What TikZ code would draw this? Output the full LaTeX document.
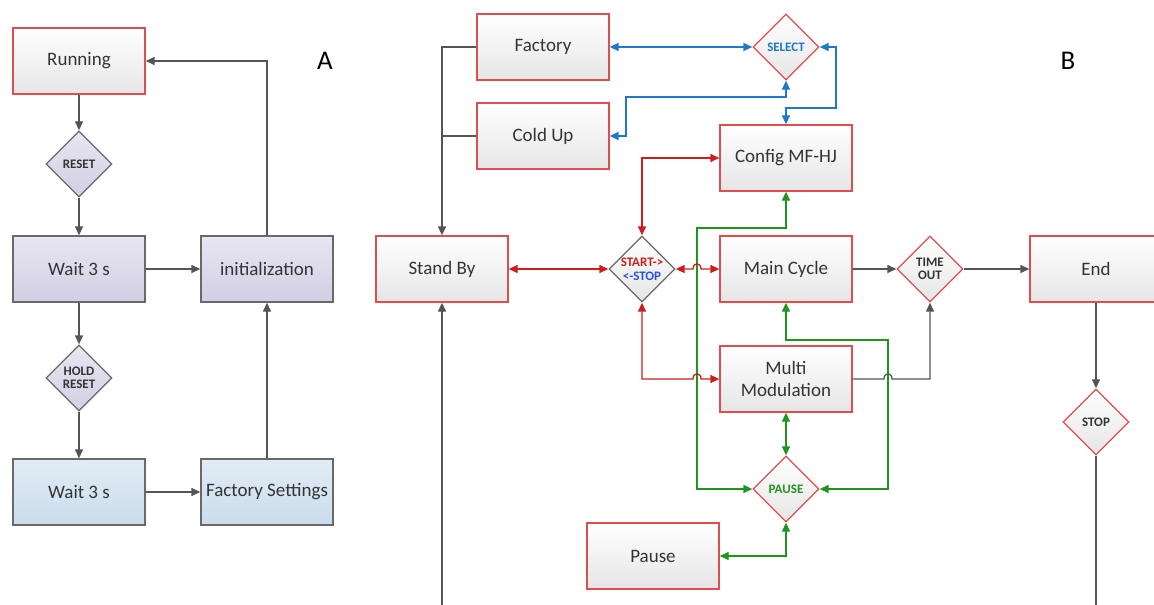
\documentclass[tikz,border=0pt]{standalone}
\usepackage{fontspec}
\setmainfont{Carlito}
\usetikzlibrary{shapes.geometric, arrows.meta, calc}
\definecolor{txt}{RGB}{52, 52, 52}
\definecolor{boxred}{RGB}{222, 78, 78}
\definecolor{boxgray}{RGB}{105, 105, 105}
\definecolor{lilac1}{RGB}{232, 230, 242}
\definecolor{lilac2}{RGB}{210, 206, 228}
\definecolor{sky1}{RGB}{226, 236, 246}
\definecolor{sky2}{RGB}{202, 220, 236}
\definecolor{gline}{RGB}{85, 85, 85}
\definecolor{bline}{RGB}{30, 120, 205}
\definecolor{rline}{RGB}{205, 30, 30}
\definecolor{vline}{RGB}{30, 150, 30}
\definecolor{stopblue}{RGB}{40, 80, 225}

\begin{document}
\begin{tikzpicture}[x=1pt, y=-1pt, line width=1.3pt,
  >={Triangle[length=9pt, width=8pt]},
  box/.style={rectangle, minimum width=132pt, minimum height=66pt, inner sep=2pt,
    text=txt, font=\fontsize{19}{22}\selectfont, align=center},
  redbox/.style={box, draw=boxred, top color=white, bottom color=black!10},
  lilacbox/.style={box, draw=boxgray, top color=lilac1, bottom color=lilac2},
  skybox/.style={box, draw=boxgray, top color=sky1, bottom color=sky2},
  dia/.style={diamond, aspect=1, minimum width=66pt, minimum height=66pt, inner sep=0pt,
    text=txt, font=\fontsize{13}{14}\selectfont\bfseries, align=center},
  reddia/.style={dia, draw=boxred, top color=white, bottom color=black!10},
  lilacdia/.style={dia, draw=boxgray, top color=lilac1, bottom color=lilac2},
  graydia/.style={dia, draw=boxgray, top color=white, bottom color=black!10},
  gray/.style={draw=gline},
  blue/.style={draw=bline},
  red/.style={draw=rline},
  green/.style={draw=vline}]
  \useasboundingbox (0, 0) rectangle (1154, 605);

  % A
  \node[redbox] (run) at (79, 61) {Running};
  \node[lilacdia] (reset) at (79, 164) {RESET};
  \node[lilacbox] (waitA) at (79, 269) {Wait 3 s};
  \node[lilacbox] (init) at (267, 269) {initialization};
  \node[lilacdia] (hold) at (79, 378) {HOLD\\[-1pt]RESET};
  \node[skybox] (waitB) at (79, 492) {Wait 3 s};
  \node[skybox] (fset) at (267, 492) {Factory Settings};
  \node[font=\fontsize{27}{30}\selectfont] (labA) at (325, 61) {A};

  \draw[gray, ->] (run) -- (reset);
  \draw[gray, ->] (reset) -- (waitA);
  \draw[gray, ->] (waitA) -- (init);
  \draw[gray, ->] (init.north) |- (run.east);
  \draw[gray, ->] (waitA) -- (hold);
  \draw[gray, ->] (hold) -- (waitB);
  \draw[gray, ->] (waitB) -- (fset);
  \draw[gray, ->] (fset) -- (init);

  % B
  \node[redbox] (factory) at (543, 47) {Factory};
  \node[redbox] (coldup) at (543, 136) {Cold Up};
  \node[reddia, text=bline] (select) at (786, 47) {SELECT};
  \node[redbox] (config) at (786, 158) {Config MF-HJ};
  \node[redbox] (standby) at (442, 269) {Stand By};
  \node[graydia] (ss) at (642, 269) {\textcolor{rline}{START->}\\\textcolor{stopblue}{<-STOP}};
  \node[redbox] (main) at (786, 269) {Main Cycle};
  \node[reddia] (timeout) at (930, 269) {TIME\\[-1pt]OUT};
  \node[redbox] (endbox) at (1096, 269) {End};
  \node[reddia] (stop) at (1096, 422) {STOP};
  \node[redbox] (multi) at (786, 379) {Multi\\Modulation};
  \node[reddia, text=vline] (pausedia) at (786, 489) {PAUSE};
  \node[redbox] (pausebox) at (653, 556) {Pause};
  \node[font=\fontsize{27}{30}\selectfont] (labB) at (1068, 61) {B};

  \coordinate (bl) at (626, 97);
  \coordinate (br) at (836, 108);
  \coordinate (gl) at (697, 228);
  \coordinate (gr) at (888, 340);
  \coordinate (bot) at (0, 606);

  \draw[gray, ->] (factory.west) -| (standby.north);
  \draw[gray] (coldup.west) -- (coldup.west -| standby.north);

  \draw[blue, <->] (factory.east) -- (select.west);
  \draw[blue, <->] (coldup.east) -| (bl) -| (select.south);
  \draw[blue, <->] (select.east) -| (br) -| (config.north);

  \draw[green, <->] (pausedia.west) -| (gl) -| (config.south);
  \draw[green, <->] (pausedia.east) -| (gr) -| (main.south);
  \draw[green, <->] (multi.south) -- (pausedia.north);
  \draw[green, <->] (pausedia.south) |- (pausebox.east);

  \draw[red, <->] (standby.east) -- (ss.west);
  \draw[red, <->] (ss.north) |- (config.west);
  \draw[red, <->] (ss.east) -- ($(ss.east -| gl)+(-4, 0)$)
    .. controls +(0, -7) and +(0, -7) .. ($(ss.east -| gl)+(4, 0)$) -- (main.west);
  \draw[red, <->] (ss.south) |- ($(multi.west -| gl)+(-4, 0)$)
    .. controls +(0, -7) and +(0, -7) .. ($(multi.west -| gl)+(4, 0)$) -- (multi.west);

  \draw[gray, ->] (main.east) -- (timeout.west);
  \draw[gray, ->] (multi.east) -- ($(multi.east -| gr)+(-4, 0)$)
    .. controls +(0, -7) and +(0, -7) .. ($(multi.east -| gr)+(4, 0)$) -| (timeout.south);
  \draw[gray, ->] (timeout.east) -- (endbox.west);
  \draw[gray, ->] (endbox.south) -- (stop.north);
  \draw[gray] (stop.south) -- (stop.south |- bot);
  \draw[gray, ->] (standby.south |- bot) -- (standby.south);
\end{tikzpicture}
\end{document}
